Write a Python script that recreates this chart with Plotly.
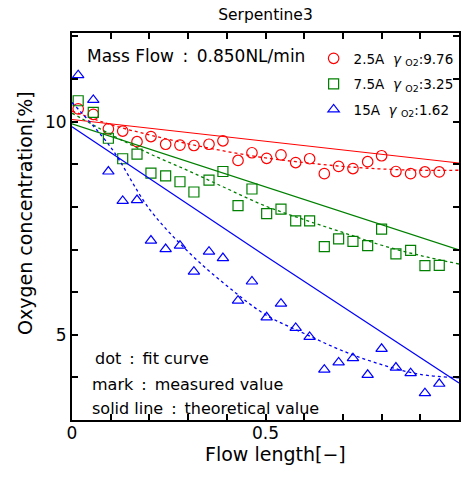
import plotly.graph_objects as go

# ---------------- data ----------------
flow_x = [0.016, 0.055, 0.094, 0.131, 0.168, 0.204, 0.242, 0.279, 0.315, 0.354,
          0.390, 0.429, 0.465, 0.503, 0.540, 0.578, 0.614, 0.652, 0.689, 0.726,
          0.764, 0.800, 0.837, 0.875, 0.912, 0.949]

o2_2p5A = [10.30, 10.17, 9.83, 9.78, 9.53, 9.65, 9.47, 9.45, 9.44, 9.47,
           9.55, 9.09, 9.27, 9.14, 9.22, 9.04, 9.13, 8.78, 8.95, 8.90,
           9.06, 9.20, 8.83, 8.78, 8.82, 8.82]
o2_7p5A = [10.49, 10.22, 9.61, 9.13, 9.24, 8.79, 8.73, 8.59, 8.35, 8.63,
           8.83, 8.03, 8.42, 7.84, 7.95, 7.67, 7.67, 7.07, 7.25, 7.19,
           7.09, 7.48, 6.90, 6.98, 6.62, 6.63]
o2_15A = [11.09, 10.51, 8.83, 8.14, 8.16, 7.21, 7.01, 7.09, 6.48, 6.95,
          6.80, 5.80, 6.25, 5.41, 5.73, 5.16, 4.95, 4.18, 4.35, 4.45,
          4.06, 4.67, 4.23, 4.10, 3.63, 3.85]

fit_x = [0.0, 0.1, 0.2, 0.3, 0.4, 0.5, 0.6, 0.7, 0.8, 0.9, 1.0]
fit_2p5A = [10.25, 9.93, 9.69, 9.48, 9.30, 9.15, 9.04, 8.95, 8.89, 8.86, 8.86]
fit_7p5A = [10.20, 9.70, 9.25, 8.85, 8.43, 8.02, 7.70, 7.40, 7.10, 6.86, 6.66]
fit_15A = [10.45, 9.40, 7.95, 6.95, 6.15, 5.47, 5.03, 4.62, 4.30, 4.07, 3.99]

theo_x = [0.0, 0.5, 1.0]
theo_2p5A = [10.05, 9.54, 9.03]
theo_7p5A = [9.95, 8.47, 6.99]
theo_15A = [9.88, 6.85, 3.87]

legend_names = ["2.5A\u00a0 <i>γ</i>\u00a0<sub>O2</sub>:9.76",
                "7.5A\u00a0 <i>γ</i>\u00a0<sub>O2</sub>:3.25",
                "15A\u00a0 <i>γ</i>\u00a0<sub>O2</sub>:1.62"]

x_ticks = [0, 0.5, 1]
x_tick_text = ["0", "0.5", "1"]
y_ticks = [5, 10]
y_tick_text = ["5", "10"]
x_range = [0, 1]
y_range = [3, 12.08]

# ---------------- figure ----------------
FONT = "DejaVu Sans, Arial, sans-serif"
colors = ["#ff0000", "#008000", "#0000ff"]
symbols = ["circle-open", "square-open", "triangle-up-open"]
sizes = [10.5, 10, 10]
COLON = "\u2002:\u2002"

fig = go.Figure()
series = [(o2_2p5A, fit_2p5A, theo_2p5A), (o2_7p5A, fit_7p5A, theo_7p5A),
          (o2_15A, fit_15A, theo_15A)]

for i, (meas, fit, theo) in enumerate(series):
    fig.add_trace(go.Scatter(x=theo_x, y=theo, mode="lines",
                             line=dict(color=colors[i], width=1.2),
                             showlegend=False, hoverinfo="skip"))
    fig.add_trace(go.Scatter(x=fit_x, y=fit, mode="lines", line_shape="spline",
                             line=dict(color=colors[i], width=1.3, dash="dot"),
                             showlegend=False, hoverinfo="skip"))
    fig.add_trace(go.Scatter(x=flow_x, y=meas, mode="markers", name=legend_names[i],
                             legendgroup=f"g{i}",
                             marker=dict(symbol=symbols[i], size=sizes[i],
                                         color=colors[i], line=dict(width=1.2, color=colors[i]))))

# empty trace so the mirrored (top/right) axes get drawn
fig.add_trace(go.Scatter(x=[], y=[], xaxis="x2", yaxis="y2", showlegend=False, hoverinfo="skip"))

fig.add_annotation(text="Mass Flow" + COLON + "0.850NL/min", xref="paper", yref="paper",
                   x=(85 - 72) / 386, y=(420 - 56) / 387, xanchor="left", yanchor="middle",
                   showarrow=False, font=dict(size=17, color="black", family=FONT))
notes = ["dot" + COLON + "fit curve", "mark" + COLON + "measured value",
         "solid line" + COLON + "theoretical value"]
note_x = [93, 90, 90]
note_y = [358, 384, 408]
for t, nx, ny in zip(notes, note_x, note_y):
    fig.add_annotation(text=t, xref="paper", yref="paper",
                       x=(nx - 72) / 386, y=(420 - ny) / 387,
                       xanchor="left", yanchor="middle", showarrow=False,
                       font=dict(size=16, color="black", family=FONT))

# axis titles
fig.add_annotation(text="Flow length[−]", xref="paper", yref="paper",
                   x=(275 - 72) / 386, y=0, yshift=-(454 - 420), xanchor="center",
                   yanchor="middle", showarrow=False, font=dict(size=19, color="black", family=FONT))
fig.add_annotation(text="Oxygen concentration[%]", xref="paper", yref="paper", textangle=-90,
                   x=0, xshift=-(72 - 25), y=(420 - 213) / 387, xanchor="center",
                   yanchor="middle", showarrow=False, font=dict(size=19, color="black", family=FONT))

tick_common = dict(ticks="inside", ticklen=6, tickwidth=1.5, tickcolor="black",
                   showline=True, linecolor="black", linewidth=2,
                   showgrid=False, zeroline=False, automargin=False)

fig.update_layout(
    width=462, height=477,
    margin=dict(l=72, r=3, t=33, b=57, autoexpand=False),
    paper_bgcolor="white", plot_bgcolor="white",
    font=dict(family=FONT, color="black"),
    title=dict(text="Serpentine3", x=(265 - 72) / 386, xref="paper", xanchor="center",
               y=1 - 15 / 477, yanchor="middle",
               font=dict(size=15.5, color="black", family=FONT)),
    legend=dict(x=(313 - 72) / 386, y=(420 - 43) / 387, xanchor="left", yanchor="top",
                bgcolor="rgba(0,0,0,0)", font=dict(size=13.5, family=FONT),
                tracegroupgap=5, itemwidth=30),
    xaxis=dict(range=x_range, tickvals=x_ticks, ticktext=x_tick_text, ticklabelstandoff=-3,
               minor=dict(dtick=0.1, tick0=0, ticks="inside", ticklen=6, tickwidth=1.5,
                          tickcolor="black", showgrid=False),
               tickfont=dict(size=17, family=FONT), **tick_common),
    yaxis=dict(range=y_range, tickvals=y_ticks, ticktext=y_tick_text,
               minor=dict(dtick=1, tick0=0, ticks="inside", ticklen=6, tickwidth=1.5,
                          tickcolor="black", showgrid=False),
               tickfont=dict(size=17, family=FONT), **tick_common),
    xaxis2=dict(range=x_range, overlaying="x", side="top", anchor="y", tickvals=x_ticks,
                showticklabels=False,
                minor=dict(dtick=0.1, tick0=0, ticks="inside", ticklen=6, tickwidth=1.5,
                           tickcolor="black", showgrid=False),
                **tick_common),
    yaxis2=dict(range=y_range, overlaying="y", side="right", anchor="x", tickvals=y_ticks,
                showticklabels=False,
                minor=dict(dtick=1, tick0=0, ticks="inside", ticklen=6, tickwidth=1.5,
                           tickcolor="black", showgrid=False),
                **tick_common),
)

fig.write_html("out.html", config={"displayModeBar": False},
               post_script="document.body.style.margin='0';document.body.style.overflow='hidden';")
